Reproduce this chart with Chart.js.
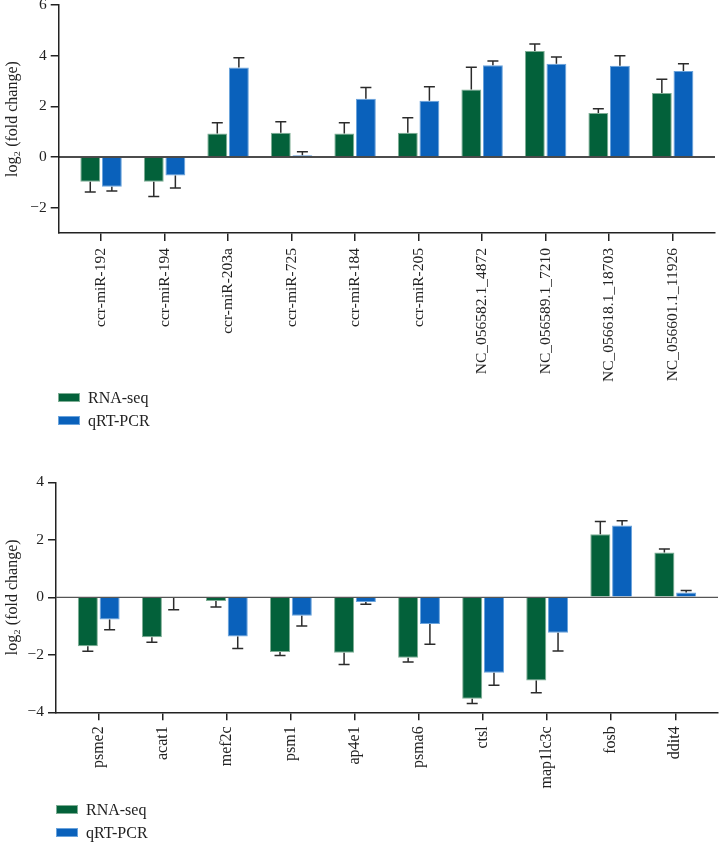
<!DOCTYPE html>
<html>
<head>
<meta charset="utf-8">
<script src="https://cdn.jsdelivr.net/npm/chart.js@4.4.1/dist/chart.umd.min.js"></script>
<style>
	body { margin: 0; background: #fff; width: 721px; height: 842px; position: relative; overflow: hidden; font-family: 'Liberation Serif', serif; color: #222; }
	.wrap { position: absolute; left: 0; width: 721px; }
	.legend { position: absolute; font-size: 16px; }
	.legend div { position: relative; height: 23.3px; line-height: 23.3px; padding-left: 30px; white-space: nowrap; }
	.legend span { position: absolute; left: 0; top: 7px; width: 22px; height: 9px; box-sizing: border-box; border: 1px solid; }
</style>
</head>
<body>
<div class="wrap" style="top:0;height:392px;"><canvas id="topChart"></canvas></div>
<div class="legend" style="left:58px;top:386px;">
	<div><span style="background:#03613a;border-color:#7fae95;"></span>RNA-seq</div>
	<div><span style="background:#0a61bb;border-color:#6aa3dc;"></span>qRT-PCR</div>
</div>
<div class="wrap" style="top:440px;height:360px;"><canvas id="bottomChart"></canvas></div>
<div class="legend" style="left:56px;top:798px;">
	<div><span style="background:#03613a;border-color:#7fae95;"></span>RNA-seq</div>
	<div><span style="background:#0a61bb;border-color:#6aa3dc;"></span>qRT-PCR</div>
</div>
<script>
var topLabels = ["ccr-miR-192", "ccr-miR-194", "ccr-miR-203a", "ccr-miR-725", "ccr-miR-184",
		"ccr-miR-205", "NC_056582.1_4872", "NC_056589.1_7210", "NC_056618.1_18703", "NC_056601.1_11926"],
	topRnaSeq = [-0.98, -0.98, 0.93, 0.96, 0.93, 0.96, 2.66, 4.18, 1.74, 2.53],
	topRnaSeqErr = [0.40, 0.58, 0.42, 0.43, 0.42, 0.59, 0.88, 0.28, 0.16, 0.54],
	topQpcr = [-1.17, -0.73, 3.53, 0.07, 2.30, 2.22, 3.62, 3.68, 3.60, 3.39],
	topQpcrErr = [0.17, 0.49, 0.39, 0.14, 0.44, 0.55, 0.17, 0.27, 0.40, 0.29];

var bottomLabels = ["psme2", "acat1", "mef2c", "psm1", "ap4e1", "psma6", "ctsl", "map1lc3c", "fosb", "ddit4"],
	bottomRnaSeq = [-1.70, -1.39, -0.13, -1.90, -1.93, -2.10, -3.53, -2.89, 2.19, 1.56],
	bottomRnaSeqErr = [0.18, 0.17, 0.21, 0.12, 0.41, 0.15, 0.16, 0.43, 0.45, 0.12],
	bottomQpcr = [-0.77, -0.02, -1.36, -0.64, -0.16, -0.93, -2.62, -1.23, 2.50, 0.17],
	bottomQpcrErr = [0.36, 0.41, 0.42, 0.36, 0.08, 0.70, 0.44, 0.64, 0.16, 0.07];

var seriesNames = ["RNA-seq", "qRT-PCR"],
	fillColors = ["#03613a", "#0a61bb"],
	edgeColors = ["#7fae95", "#6aa3dc"],
	inkColor = "#222";

Chart.defaults.font.family = "'Liberation Serif', 'Times New Roman', serif";
Chart.defaults.color = inkColor;

function toPoints(values) {
	return values.map(function(v, i) { return { x: i, y: v }; });
}

// zero line + one-sided error bars, placed with the chart's own scales
var errorBars = {
	id: "errorBars",
	afterDatasetsDraw: function(chart, args, opts) {
		var ctx = chart.ctx,
			 yScale = chart.scales.y,
			 area = chart.chartArea,
			 y0 = yScale.getPixelForValue(0);

		ctx.save();
		ctx.strokeStyle = opts.zeroColor;
		ctx.lineWidth = opts.zeroWidth;
		ctx.beginPath();
		ctx.moveTo(area.left, y0);
		ctx.lineTo(area.right, y0);
		ctx.stroke();

		ctx.strokeStyle = "#2b2b2b";
		ctx.lineWidth = 1.5;
		chart.data.datasets.forEach(function(ds, i) {
			var meta = chart.getDatasetMeta(i);
			meta.data.forEach(function(bar, j) {
				var v = ds.data[j].y,
					 e = ds.errors[j],
					 yEnd = yScale.getPixelForValue(v < 0 ? v - e : v + e);
				ctx.beginPath();
				ctx.moveTo(bar.x, bar.y);
				ctx.lineTo(bar.x, yEnd);
				ctx.moveTo(bar.x - 5.5, yEnd);
				ctx.lineTo(bar.x + 5.5, yEnd);
				ctx.stroke();
			});
		});
		ctx.restore();
	}
};

function makeChart(id, labels, rna, rnaErr, qpcr, qpcrErr, cfg) {
	return new Chart(document.getElementById(id).getContext("2d"), {
		type: "bar",
		data: {
			datasets: [{
				label: seriesNames[0],
				data: toPoints(rna),
				errors: rnaErr,
				backgroundColor: fillColors[0],
				borderColor: edgeColors[0],
				borderWidth: 1
			}, {
				label: seriesNames[1],
				data: toPoints(qpcr),
				errors: qpcrErr,
				backgroundColor: fillColors[1],
				borderColor: edgeColors[1],
				borderWidth: 1
			}]
		},
		options: {
			responsive: true,
			maintainAspectRatio: false,
			animation: false,
			categoryPercentage: 0.68,
			barPercentage: 0.92,
			layout: { padding: cfg.padding },
			plugins: {
				legend: { display: false },
				tooltip: { enabled: false },
				errorBars: { zeroColor: cfg.zeroColor, zeroWidth: cfg.zeroWidth }
			},
			scales: {
				x: {
					type: "linear",
					offset: false,
					min: -0.667,
					max: 9.667,
					grid: { offset: false, drawOnChartArea: false, drawTicks: true, tickLength: 8, color: inkColor, lineWidth: 1.5 },
					border: { display: true, color: inkColor, width: 1.5 },
					ticks: {
						stepSize: 1,
						includeBounds: false,
						autoSkip: false,
						minRotation: 90,
						maxRotation: 90,
						padding: cfg.xPad,
						font: { size: cfg.xFont },
						color: inkColor,
						callback: function(v) { return labels[v]; }
					},
					afterFit: function(s) {
						s.height = cfg.xHeight;
						s.paddingLeft = 0;
						s.paddingRight = 0;
					}
				},
				y: {
					min: cfg.yMin,
					max: cfg.yMax,
					grid: { drawOnChartArea: false, drawTicks: true, tickLength: 8, color: inkColor, lineWidth: 1.5 },
					border: { display: true, color: inkColor, width: 1.5 },
					ticks: {
						stepSize: 2,
						includeBounds: false,
						padding: 4,
						font: { size: 15.5 },
						color: inkColor,
						callback: function(v) { return String(v).replace("-", "\u2212"); }
					},
					title: {
						display: true,
						text: "log\u2082 (fold change)",
						font: { size: 16 },
						color: inkColor,
						padding: { top: 3, bottom: 0 }
					},
					afterFit: function(s) {
						s.width = cfg.yWidth;
						s.paddingTop = 0;
						s.paddingBottom = 0;
					}
				}
			}
		},
		plugins: [errorBars]
	});
}

makeChart("topChart", topLabels, topRnaSeq, topRnaSeqErr, topQpcr, topQpcrErr, {
	padding: { top: 5, right: 6, bottom: 0, left: 0 },
	yMin: -3, yMax: 6, yWidth: 58.7,
	xHeight: 159, xPad: 7, xFont: 15.5,
	zeroColor: "#111", zeroWidth: 1.5
});

makeChart("bottomChart", bottomLabels, bottomRnaSeq, bottomRnaSeqErr, bottomQpcr, bottomQpcrErr, {
	padding: { top: 42.3, right: 3, bottom: 0, left: 0 },
	yMin: -4, yMax: 4, yWidth: 56,
	xHeight: 87.7, xPad: 6, xFont: 16,
	zeroColor: "#555", zeroWidth: 1.2
});
</script>
</body>
</html>
